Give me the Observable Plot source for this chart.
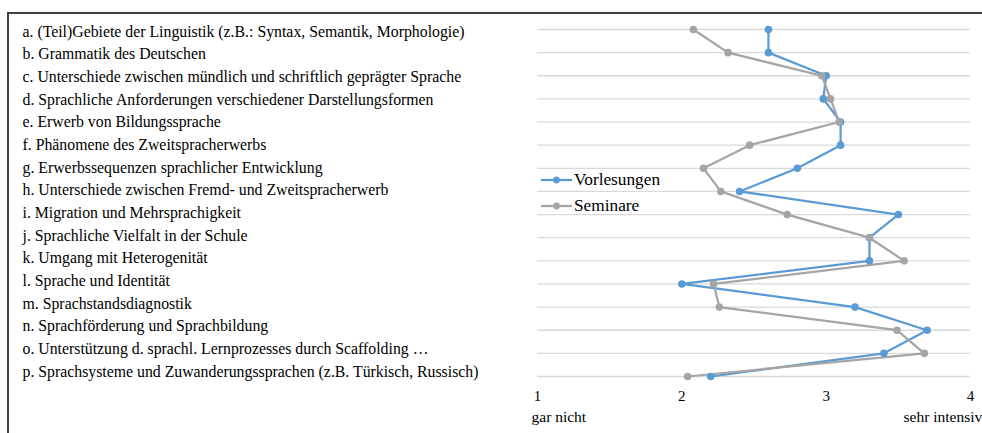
<!DOCTYPE html>
<html>
<head>
<meta charset="utf-8">
<script src="https://cdn.jsdelivr.net/npm/d3@7"></script>
<script src="https://cdn.jsdelivr.net/npm/@observablehq/plot@0.6"></script>
<style>
  html, body { margin: 0; padding: 0; background: #fff; overflow: hidden; }
  #wrap { position: relative; width: 982px; height: 433px; overflow: hidden; }
  #frame { position: absolute; left: 7px; top: 12px; width: 1000px; height: 460px;
           border-top: 2px solid #404040; border-left: 2px solid #404040; box-sizing: border-box; }
  #labels { position: absolute; left: 0; top: 0; width: 540px; height: 433px; }
  #chart { position: absolute; left: 0; top: 0; width: 982px; height: 433px; }
  #labels svg, #chart svg { max-width: none !important; display: block; }
  #legend { position: absolute; left: 540px; top: 167px; font-family: "Liberation Serif", "Times New Roman", serif;
            font-size: 17.3px; color: #000; }
  .item { display: flex; align-items: center; height: 26px; }
  .item svg { margin-right: 0px; }
</style>
</head>
<body>
<div id="wrap">
  <div id="frame"></div>
  <div id="labels"></div>
  <div id="chart"></div>
  <div id="legend"></div>
</div>
<script>
const categories = [
  "a. (Teil)Gebiete der Linguistik (z.B.: Syntax, Semantik, Morphologie)",
  "b. Grammatik des Deutschen",
  "c. Unterschiede zwischen mündlich und schriftlich geprägter Sprache",
  "d. Sprachliche Anforderungen verschiedener Darstellungsformen",
  "e. Erwerb von Bildungssprache",
  "f. Phänomene des Zweitspracherwerbs",
  "g. Erwerbssequenzen sprachlicher Entwicklung",
  "h. Unterschiede zwischen Fremd- und Zweitspracherwerb",
  "i. Migration und Mehrsprachigkeit",
  "j. Sprachliche Vielfalt in der Schule",
  "k. Umgang mit Heterogenität",
  "l. Sprache und Identität",
  "m. Sprachstandsdiagnostik",
  "n. Sprachförderung und Sprachbildung",
  "o. Unterstützung d. sprachl. Lernprozesses durch Scaffolding …",
  "p. Sprachsysteme und Zuwanderungssprachen (z.B. Türkisch, Russisch)"
];
const vorlesungen = [2.6, 2.6, 3.0, 2.98, 3.1, 3.1, 2.8, 2.4, 3.5, 3.3, 3.3, 2.0, 3.2, 3.7, 3.4, 2.2];
const seminare    = [2.08, 2.32, 2.97, 3.03, 3.09, 2.47, 2.15, 2.27, 2.73, 3.3, 3.54, 2.22, 2.26, 3.49, 3.68, 2.04];
const seriesNames = ["Vorlesungen", "Seminare"];
const seriesColors = ["#5B9BD5", "#A5A5A5"];
const xTicks = [1, 2, 3, 4];
const scaleEndLabels = ["gar nicht", "sehr intensiv"];

const rows = [];
categories.forEach((c, i) => {
  rows.push({cat: c, value: vorlesungen[i], series: seriesNames[0]});
});
categories.forEach((c, i) => {
  rows.push({cat: c, value: seminare[i], series: seriesNames[1]});
});

const font = "'Liberation Serif', 'Times New Roman', serif";

// category labels list (left text block)
const labels = Plot.plot({
  width: 540,
  height: 433,
  marginLeft: 22,
  marginRight: 0,
  marginTop: 31,
  marginBottom: 62,
  style: {fontFamily: font, fontSize: "15.8px", color: "#000", background: "transparent", overflow: "visible"},
  y: {type: "point", domain: categories, padding: 0, round: false, axis: null},
  marks: [
    Plot.text(categories, {y: d => d, text: d => d, frameAnchor: "left", textAnchor: "start", lineAnchor: "middle", fontSize: 15.8, fill: "#000"})
  ]
});
document.getElementById("labels").appendChild(labels);

const chart = Plot.plot({
  width: 982,
  height: 433,
  marginLeft: 537,
  marginRight: 12,
  marginTop: 29,
  marginBottom: 57,
  style: {fontFamily: font, fontSize: "15px", color: "#000", background: "transparent", overflow: "visible"},
  x: {domain: [xTicks[0], xTicks[xTicks.length - 1]]},
  y: {type: "point", domain: categories, padding: 0, round: false, axis: null},
  color: {domain: seriesNames, range: seriesColors},
  marks: [
    Plot.gridY({stroke: "#d9d9d9", strokeOpacity: 1, strokeWidth: 1.3}),
    Plot.axisX({ticks: xTicks, tickSize: 0, tickPadding: 14, fontSize: 15, label: null, tickFormat: d => String(d), fill: "#000"}),
    Plot.text([scaleEndLabels[0]], {x: () => xTicks[0], frameAnchor: "bottom", text: d => d, textAnchor: "start", dx: -6, dy: 45, fontSize: 15.5, fill: "#000"}),
    Plot.text([scaleEndLabels[1]], {x: () => xTicks[xTicks.length - 1], frameAnchor: "bottom", text: d => d, textAnchor: "start", dx: -67, dy: 45, fontSize: 15.5, fill: "#000"}),
    Plot.line(rows, {x: "value", y: "cat", z: "series", stroke: "series", strokeWidth: 2.25, curve: "linear"}),
    Plot.dot(rows, {x: "value", y: "cat", fill: "series", r: 3.8, stroke: "none"})
  ]
});
document.getElementById("chart").appendChild(chart);

const legend = document.getElementById("legend");
seriesNames.forEach((name, i) => {
  const item = document.createElement("div");
  item.className = "item";
  item.innerHTML = `<svg width="34" height="12"><line x1="1" y1="6" x2="32" y2="6" stroke="${seriesColors[i]}" stroke-width="2.25"/><circle cx="16.5" cy="6" r="3.4" fill="${seriesColors[i]}"/></svg><span>${name}</span>`;
  legend.appendChild(item);
});
</script>
</body>
</html>
